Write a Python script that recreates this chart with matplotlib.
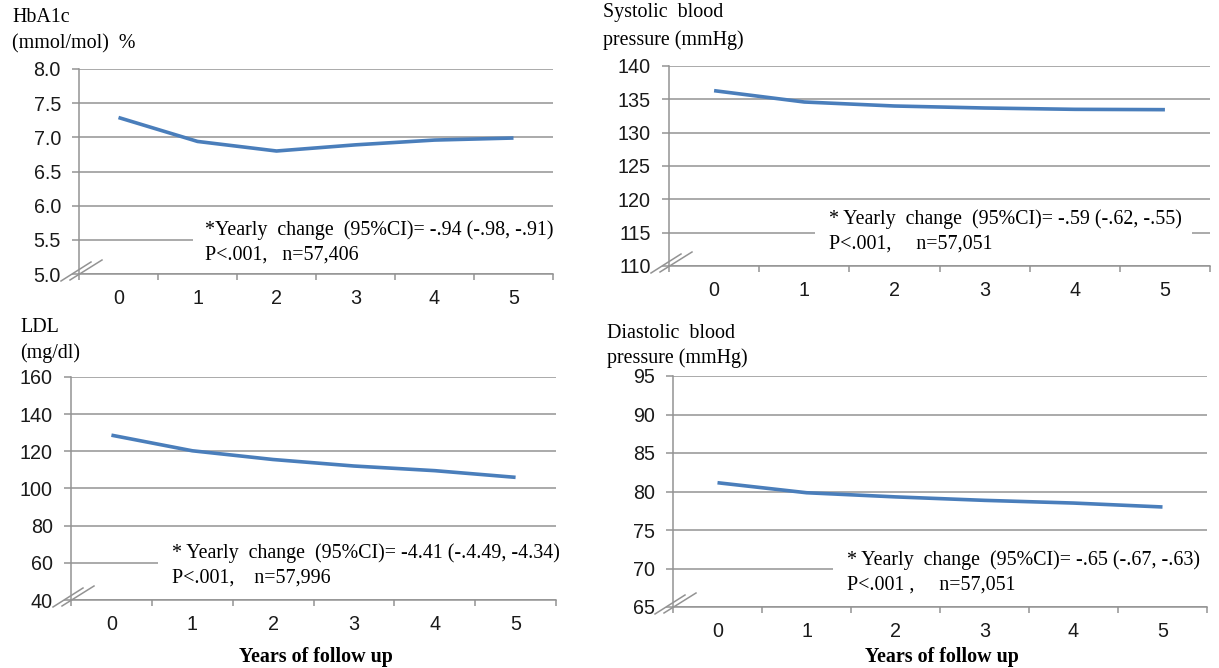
import matplotlib
matplotlib.use("Agg")
import matplotlib.pyplot as plt
from matplotlib.patches import Rectangle
from matplotlib.lines import Line2D
from matplotlib.ticker import FixedLocator, MultipleLocator, FormatStrFormatter

# ---------------- data ----------------
years = [0, 1, 2, 3, 4, 5]
hba1c = [7.29, 6.94, 6.80, 6.89, 6.96, 6.99]
sbp = [136.3, 134.6, 134.0, 133.7, 133.5, 133.45]
ldl = [128.7, 120.3, 115.6, 112.1, 109.6, 106.0]
dbp = [81.14, 79.84, 79.3, 78.85, 78.5, 77.99]

titles = [["HbA1c", "(mmol/mol)  %"],
          ["Systolic  blood", "pressure (mmHg)"],
          ["LDL", "(mg/dl)"],
          ["Diastolic  blood", "pressure (mmHg)"]]
notes = [["*Yearly  change  (95%CI)= -.94 (-.98, -.91)", "P<.001,   n=57,406"],
         ["* Yearly  change  (95%CI)= -.59 (-.62, -.55)", "P<.001,     n=57,051"],
         ["* Yearly  change  (95%CI)= -4.41 (-.4.49, -4.34)", "P<.001,    n=57,996"],
         ["* Yearly  change  (95%CI)= -.65 (-.67, -.63)", "P<.001 ,     n=57,051"]]
ylims = [(5.0, 8.0), (110, 140), (40, 160), (65, 95)]
ysteps = [0.5, 5, 20, 5]
yfmts = ["%.1f", "%d", "%d", "%d"]
xlabel = "Years of follow up"

# ---------------- layout (pixels) ----------------
W, H = 1219, 668
def fx(p): return p / W
def fy(p): return 1 - p / H

# left, right, top, bottom of each plot area
boxes = [(79, 553, 69, 274), (669, 1210, 66, 266), (71, 556, 377, 600), (673, 1207, 376, 607)]
title_pos = [(12, 18, 44), (603, 13, 40), (20, 328, 353), (607, 333, 358)]
note_pos = [(205, 230, 255), (829, 219, 244), (172, 553, 578), (847, 560, 585)]
mask = [(193, 553, 210, 268), (815, 1192, 200, 260), (158, 556, 535, 594), (833, 1207, 542, 601)]
series = [hba1c, sbp, ldl, dbp]

GRID = "#939393"
LINE = "#4a7ebb"
serif = ["Liberation Serif", "DejaVu Serif"]
sans = ["Liberation Sans", "DejaVu Sans"]
FS_TXT = 14.4
FS_TICK = 14.2

fig = plt.figure(figsize=(W / 100, H / 100), dpi=100)

for i in range(4):
    l, r, t, b = boxes[i]
    ax = fig.add_axes([fx(l), fy(b), fx(r) - fx(l), fy(t) - fy(b)])
    ax.plot(years, series[i], color=LINE, lw=2.6, solid_capstyle="butt", zorder=3)
    ax.set_xlim(-0.5, 5.5)
    ax.set_ylim(*ylims[i])
    ax.yaxis.set_major_locator(MultipleLocator(ysteps[i]))
    ax.yaxis.set_major_formatter(FormatStrFormatter(yfmts[i]))
    ax.grid(axis="y", color=GRID, lw=1.1)
    ax.set_axisbelow(True)
    for s in ["top", "right"]:
        ax.spines[s].set_visible(False)
    for s in ["left", "bottom"]:
        ax.spines[s].set_color(GRID)
        ax.spines[s].set_linewidth(1.1)
    ax.set_xticks(years)
    ax.set_xticklabels([str(y) for y in years])
    ax.xaxis.set_minor_locator(FixedLocator([k - 0.5 for k in range(7)]))
    ax.tick_params(axis="x", which="major", length=0, pad=11, labelsize=FS_TICK)
    ax.tick_params(axis="x", which="minor", length=4.5, width=1.1, color=GRID, direction="out")
    ax.tick_params(axis="y", which="major", length=5, width=1.1, color=GRID, pad=8, labelsize=FS_TICK)
    for lab in ax.get_xticklabels() + ax.get_yticklabels():
        lab.set_family(sans)
        lab.set_color("#1a1a1a")

    # white mask behind annotation
    ml, mr, mt, mb = mask[i]
    ax.add_patch(Rectangle((fx(ml), fy(mb)), fx(mr) - fx(ml), fy(mt) - fy(mb),
                           transform=fig.transFigure, facecolor="white", edgecolor="none",
                           zorder=2, clip_on=False))
    nx, ny1, ny2 = note_pos[i]
    fig.text(fx(nx), fy(ny1), notes[i][0], family=serif, fontsize=FS_TXT, va="center", ha="left")
    fig.text(fx(nx), fy(ny2), notes[i][1], family=serif, fontsize=FS_TXT, va="center", ha="left")

    tx, ty1, ty2 = title_pos[i]
    fig.text(fx(tx), fy(ty1), titles[i][0], family=serif, fontsize=FS_TXT, va="center", ha="left")
    fig.text(fx(tx), fy(ty2), titles[i][1], family=serif, fontsize=FS_TXT, va="center", ha="left")

    # axis break marks
    for (x0, y0, x1, y1) in [(-18, 7, 12, -12), (-9, 6, 23, -14)]:
        fig.add_artist(Line2D([fx(l + x0), fx(l + x1)], [fy(b + y0), fy(b + y1)],
                              color=GRID, lw=1.1))

    if i >= 2:
        fig.text(fx((l + r) / 2 + 2), fy(657), xlabel, family=serif, fontsize=FS_TXT,
                 fontweight="bold", ha="center", va="center")

fig.savefig("out.png", dpi=100)
